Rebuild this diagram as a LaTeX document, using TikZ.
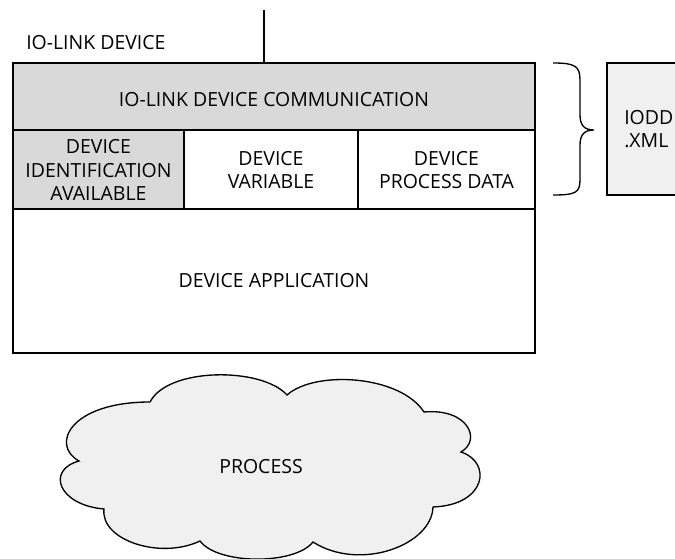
\documentclass[tikz,border=0pt]{standalone}
\usepackage{fontspec}
\setmainfont{Open Sans}
\begin{document}
\begin{tikzpicture}[x=0.75pt,y=-0.75pt,
  box/.style={draw=black,line width=1pt},
  lbl/.style={font=\fontsize{14.6}{17.6}\selectfont,align=center,inner sep=0pt},
  darkfill/.style={fill=black!15},
  lightfill/.style={fill=black!6}]
\useasboundingbox (0,0) rectangle (675,559);

% IODD description file (runs off the right edge)
\path[box,lightfill] (607,63) rectangle (690,195);
\node[lbl,align=left,anchor=west] (iodd) at (624,129) {IODD\\.XML};

% device layers
\path[box,darkfill] (13,63) rectangle (535,130);
\node[lbl] (comm) at (274,100) {IO-LINK DEVICE COMMUNICATION};
\path[box,darkfill] (13,130) rectangle (184,209);
\node[lbl] (ident) at (98.5,170) {DEVICE\\IDENTIFICATION\\AVAILABLE};
\path[box] (184,130) rectangle (358,209);
\node[lbl] (var) at (271,170) {DEVICE\\VARIABLE};
\path[box] (358,130) rectangle (535,209);
\node[lbl] (pd) at (446.5,170) {DEVICE\\PROCESS DATA};
\path[box] (13,209) rectangle (535,353);
\node[lbl] (app) at (274,281) {DEVICE APPLICATION};

% title and the link wire
\node[lbl,anchor=west] (title) at (26,43) {IO-LINK DEVICE};
\coordinate (wtop) at (264,10);
\coordinate (wbot) at (264,63);
\draw[line width=1pt] (wtop) -- (wbot);

% curly brace grouping the communication and data layers
\draw[line width=1pt] (553,63) .. controls (575,63) and (580,66) .. (580,80)
  -- (580,115) .. controls (580,126) and (585,130) .. (594,130)
  .. controls (585,130) and (580,134) .. (580,145)
  -- (580,180) .. controls (580,193) and (575,195) .. (553,195);

% process cloud
\path[draw=black,line width=1pt,lightfill]
  (150,402) .. controls (168,367) and (262,367) .. (287,395)
  .. controls (315,370) and (400,375) .. (424,412)
  .. controls (468,408) and (482,440) .. (461,452)
  .. controls (492,462) and (487,505) .. (433,507)
  .. controls (432,545) and (360,572) .. (313,542)
  .. controls (295,565) and (218,565) .. (200,541)
  .. controls (160,560) and (100,540) .. (104,509)
  .. controls (58,505) and (46,470) .. (79,461)
  .. controls (50,445) and (70,402) .. cycle;
\node[lbl] (proc) at (261,467) {PROCESS};
\end{tikzpicture}
\end{document}
